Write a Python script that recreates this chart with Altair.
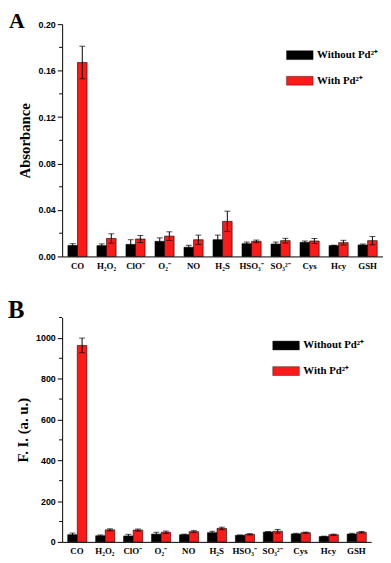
import altair as alt
import pandas as pd

categories = ["CO", "H₂O₂", "ClO⁻", "O₂⁻", "NO", "H₂S", "HSO₃⁻", "SO₃²⁻", "Cys", "Hcy", "GSH"]
groups = ["Without Pd²⁺", "With Pd²⁺"]

# Panel A: absorbance
abs_without = [0.0095, 0.0093, 0.0104, 0.0130, 0.0079, 0.0144, 0.0110, 0.0107, 0.0121, 0.0093, 0.0099]
abs_without_err = [0.0015, 0.0015, 0.0040, 0.0030, 0.0017, 0.0040, 0.0014, 0.0017, 0.0012, 0.0004, 0.0008]
abs_with = [0.1670, 0.0155, 0.0150, 0.0175, 0.0144, 0.0302, 0.0130, 0.0136, 0.0133, 0.0119, 0.0136]
abs_with_err = [0.0140, 0.0040, 0.0030, 0.0037, 0.0040, 0.0088, 0.0011, 0.0020, 0.0022, 0.0020, 0.0036]

# Panel B: fluorescence intensity
fi_without = [35, 30, 29, 38, 35, 45, 32, 48, 39, 26, 38]
fi_without_err = [8, 4, 8, 9, 3, 7, 2, 3, 3, 2, 4]
fi_with = [963, 59, 58, 47, 50, 66, 37, 52, 45, 35, 47]
fi_with_err = [36, 5, 5, 6, 5, 6, 3, 9, 3, 3, 4]

abs_major = [0.0, 0.04, 0.08, 0.12, 0.16, 0.20]
abs_minor = [0.02, 0.06, 0.10, 0.14, 0.18]
fi_major = [0, 200, 400, 600, 800, 1000]
fi_minor = [100, 300, 500, 700, 900, 1100]

RED = "#FF1A1A"
SERIF = "Liberation Serif"
SANS = "Liberation Sans"


def make_df(v0, e0, v1, e1):
    rows = []
    for i, c in enumerate(categories):
        for g, v, e in ((groups[0], v0[i], e0[i]), (groups[1], v1[i], e1[i])):
            rows.append({"cat": c, "grp": g, "val": v, "lo": v - e, "hi": v + e})
    return pd.DataFrame(rows)


def panel(df, domain, major, minor, fmt, ytitle, tpad, letter, lsize, W, H, lx, ly,
          letter_x, letter_y):
    xenc = alt.X("cat:N", sort=categories,
                 scale=alt.Scale(paddingInner=0.34, paddingOuter=0.2, align=0.5),
                 axis=alt.Axis(title=None, ticks=False, labelAngle=0, labelFont=SERIF,
                               labelFontWeight="bold", labelFontSize=9, labelColor="black",
                               domainColor="black", domainWidth=1, labelPadding=5))
    xoff = alt.XOffset("grp:N", sort=groups, scale=alt.Scale(paddingInner=0, paddingOuter=0))
    yscale = alt.Scale(domain=domain, nice=False, zero=True)
    base = alt.Chart(df)
    bars = base.mark_bar(stroke="black", strokeWidth=0.6).encode(
        x=xenc, xOffset=xoff,
        y=alt.Y("val:Q", scale=yscale,
                axis=alt.Axis(values=major, format=fmt, title=ytitle, grid=False,
                              labelFont=SANS, labelFontWeight="bold", labelFontSize=9,
                              labelColor="black", tickColor="black", tickSize=5,
                              domainColor="black", domainWidth=1, labelPadding=2,
                              titleFont=SERIF, titleFontWeight="bold", titleFontSize=15,
                              titleColor="black", titlePadding=tpad)),
        color=alt.Color("grp:N", sort=groups,
                        scale=alt.Scale(domain=groups, range=["#000000", RED]),
                        legend=alt.Legend(title=None, orient="none", legendX=lx, legendY=ly,
                                          padding=0,
                                          symbolType="M-3,-1H3V1H-3Z", symbolSize=81,
                                          symbolStrokeColor="black", symbolStrokeWidth=0.4,
                                          symbolOpacity=1, labelFont=SERIF,
                                          labelFontWeight="bold", labelFontSize=11,
                                          labelColor="black", labelOffset=12, rowPadding=14)),
    )
    rules = base.mark_rule(color="black", strokeWidth=1).encode(
        x=alt.X("cat:N", sort=categories), xOffset=alt.XOffset("grp:N", sort=groups),
        y="lo:Q", y2="hi:Q")
    cap_hi = base.mark_tick(color="black", orient="horizontal", size=6, thickness=1).encode(
        x=alt.X("cat:N", sort=categories), xOffset=alt.XOffset("grp:N", sort=groups),
        y="hi:Q")
    cap_lo = base.mark_tick(color="black", orient="horizontal", size=6, thickness=1).encode(
        x=alt.X("cat:N", sort=categories), xOffset=alt.XOffset("grp:N", sort=groups),
        y="lo:Q")
    minor_ticks = alt.Chart(pd.DataFrame({"m": minor})).mark_rule(color="black", strokeWidth=1).encode(
        y="m:Q", x=alt.value(-3), x2=alt.value(0))
    label = alt.Chart(pd.DataFrame({"t": [letter]})).mark_text(
        font=SERIF, fontWeight="bold", fontSize=lsize, align="left", baseline="alphabetic",
        color="black").encode(text="t:N", x=alt.value(letter_x), y=alt.value(letter_y))
    return alt.layer(bars, rules, cap_hi, cap_lo, minor_ticks, label).properties(width=W, height=H)


dfA = make_df(abs_without, abs_without_err, abs_with, abs_with_err)
dfB = make_df(fi_without, fi_without_err, fi_with, fi_with_err)

A = panel(dfA, [0, 0.2], abs_major, abs_minor, ".2f", "Absorbance", 6, "A", 22, 326, 236,
          236, 26, -54, 3.5)
B = panel(dfB, [0, 1100], fi_major, fi_minor, "d", "F. I. (a. u.)", 5, "B", 25, 314, 228,
          222, 23, -55, 1)

chart = alt.vconcat(A, B, spacing=62, bounds="flush").resolve_scale(
    color="independent", x="independent", y="independent").properties(
    padding={"left": 0, "top": -3, "right": 0, "bottom": 0}
).configure_view(stroke=None).configure_tick(bandSize=6)

chart.save("out.html", embed_options={"renderer": "svg", "actions": False})
